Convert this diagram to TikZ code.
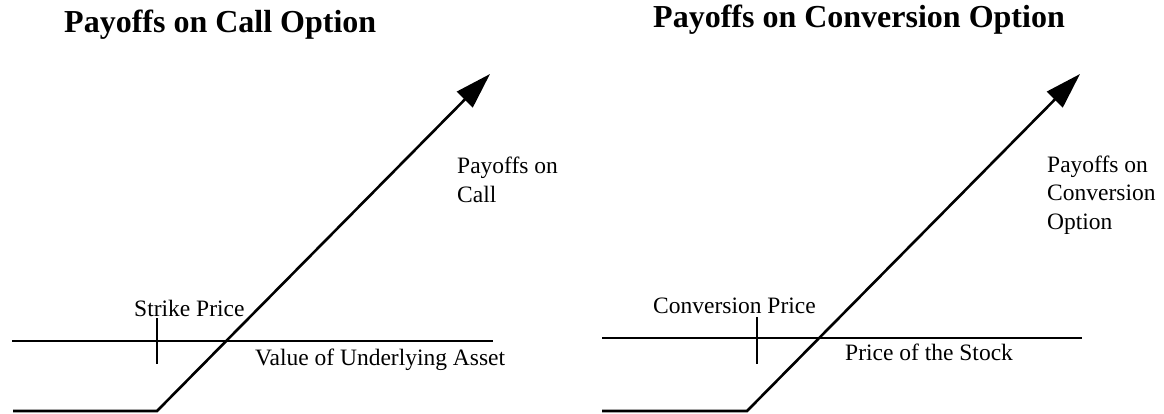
\documentclass[tikz,border=0pt]{standalone}
\usepackage{fontspec}
\setmainfont{Liberation Serif}
\usepackage{tikz}
\usetikzlibrary{arrows.meta, positioning}
\tikzset{
    textnode/.style  = {draw=none, fill=none, rectangle, inner sep=0em, anchor=base west,
      align=left, font=\fontsize{23.5}{28.5}\selectfont},
    titlenode/.style = {textnode, font=\fontsize{32}{38}\selectfont\bfseries},
    axisline/.style  = {black, line width=2.6pt},
    payoffline/.style = {black, line width=2.6pt, -{Triangle[length=36pt, width=22pt]}}
}
\begin{document}
\begin{tikzpicture}[x=1pt, y=-1pt]
    \useasboundingbox (0,0) rectangle (1164,413);

    % call option
    \node [name=titleL, titlenode] at (64,32) {Payoffs on Call Option};
    \coordinate (axisLs) at (12,341);
    \coordinate (axisLe) at (493,341);
    \coordinate (tickLt) at (157,318);
    \coordinate (tickLb) at (157,364);
    \coordinate (startL) at (13,411);
    \coordinate (kneeL) at (157,411);
    \coordinate (tipL) at (490,74);
    \draw [axisline] (axisLs) -- (axisLe);
    \draw [axisline] (tickLt) -- (tickLb);
    \draw [payoffline] (startL) -- (kneeL) -- (tipL);
    \node [name=strike, textnode] at (134,316) {Strike Price};
    \node [name=assetL, textnode] at (255,365) {Value of Underlying Asset};
    \node [name=callL, textnode] at (457,202) {Payoffs on\\Call};

    % conversion option
    \node [name=titleR, titlenode] at (653,27) {Payoffs on Conversion Option};
    \coordinate (axisRs) at (602,338);
    \coordinate (axisRe) at (1082,338);
    \coordinate (tickRt) at (757,317);
    \coordinate (tickRb) at (757,364);
    \coordinate (startR) at (602,411);
    \coordinate (kneeR) at (747,411);
    \coordinate (tipR) at (1080,74);
    \draw [axisline] (axisRs) -- (axisRe);
    \draw [axisline] (tickRt) -- (tickRb);
    \draw [payoffline] (startR) -- (kneeR) -- (tipR);
    \node [name=convprice, textnode] at (653,313) {Conversion Price};
    \node [name=stock, textnode] at (845,360) {Price of the Stock};
    \node [name=convR, textnode] at (1047,229) {Payoffs on\\Conversion\\Option};
\end{tikzpicture}
\end{document}
